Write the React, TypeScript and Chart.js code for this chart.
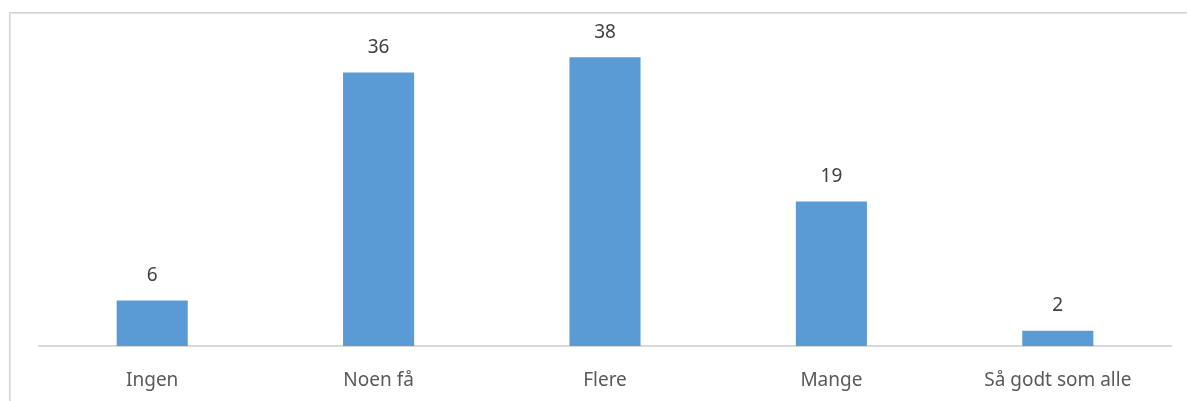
import React, { useEffect, useRef } from "react";
import { Chart, registerables } from "chart.js";

Chart.register(...registerables);

const categories = ["Ingen", "Noen få", "Flere", "Mange", "Så godt som alle"];
const values = [6, 36, 38, 19, 2];

const FONT = "'Noto Sans', 'Open Sans', sans-serif";

const framePlugin = {
  id: "frame",
  beforeDraw(chart: any) {
    const ctx = chart.ctx;
    ctx.save();
    ctx.fillStyle = "#ffffff";
    ctx.fillRect(0, 0, chart.width, chart.height);
    ctx.fillStyle = "#d4d4d4";
    ctx.fillRect(9, 12, 1, chart.height);
    ctx.fillRect(9, 12, chart.width, 1);
    ctx.fillStyle = "#e6e6e6";
    ctx.fillRect(10, 13, 1, chart.height);
    ctx.fillRect(10, 13, chart.width, 1);
    ctx.restore();
  },
};

const labelPlugin = {
  id: "valueLabels",
  afterDatasetsDraw(chart: any) {
    const ctx = chart.ctx;
    const meta = chart.getDatasetMeta(0);
    ctx.save();
    ctx.font = `19px ${FONT}`;
    ctx.fillStyle = "#404040";
    ctx.textAlign = "center";
    ctx.textBaseline = "middle";
    meta.data.forEach((bar: any, i: number) => {
      ctx.fillText(String(values[i]), bar.x, bar.y - 25);
    });
    ctx.restore();
  },
};

export default function App() {
  const ref = useRef<HTMLCanvasElement>(null);
  useEffect(() => {
    if (!ref.current) return;
    const chart = new Chart(ref.current, {
      type: "bar",
      data: {
        labels: categories,
        datasets: [
          {
            data: values,
            backgroundColor: "#5b9bd5",
            borderWidth: 0,
            barPercentage: 0.314,
            categoryPercentage: 1,
          },
        ],
      },
      options: {
        animation: false,
        responsive: false,
        maintainAspectRatio: false,
        layout: { padding: { left: 39, right: 16, top: 42, bottom: 0 } },
        plugins: { legend: { display: false }, tooltip: { enabled: false } },
        scales: {
          x: {
            grid: { display: false, drawTicks: false },
            border: { display: true, color: "#d9d9d9", width: 2 },
            ticks: {
              color: "#595959",
              font: { family: FONT, size: 19 },
              padding: 23,
              maxRotation: 0,
            },
            afterFit: (axis: any) => {
              axis.height = 55;
            },
          },
          y: {
            display: false,
            min: 0,
            max: 40,
          },
        },
      },
      plugins: [framePlugin, labelPlugin],
    });
    return () => chart.destroy();
  }, []);
  return (
    <div style={{ position: "absolute", left: 0, top: 0, width: 1187, height: 401 }}>
      <canvas ref={ref} width={1187} height={401} style={{ width: 1187, height: 401 }} />
    </div>
  );
}
